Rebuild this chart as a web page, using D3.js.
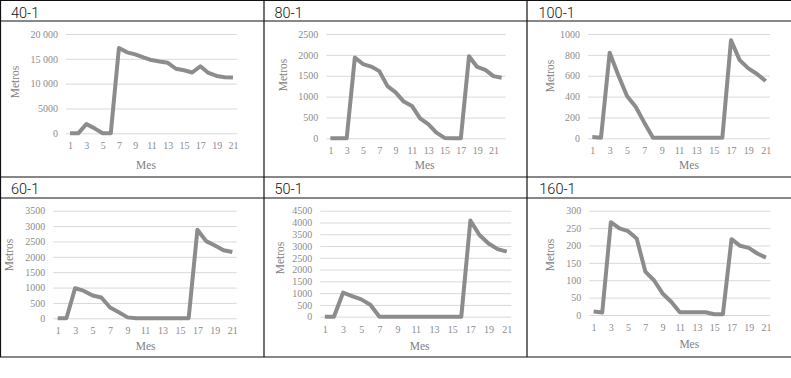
<!DOCTYPE html>
<html>
<head>
<meta charset="utf-8">
<script src="https://cdn.jsdelivr.net/npm/d3@7"></script>
<style>
  body { margin: 0; background: #fff; }
  .tick text { font-family: 'Liberation Serif', serif; font-size: 10px; fill: #8c8c8c; }
  .grid line { stroke: #d9d9d9; stroke-width: 1; }
  .ttl { font-family: Roboto, sans-serif; font-size: 14.5px; font-weight: 300; fill: #111; }
  .axt { font-family: 'Liberation Serif', serif; font-size: 11.5px; fill: #808080; }
</style>
</head>
<body>
<script>
let w = 791;
let h = 378;

// meses
let months21 = d3.range(1, 22);
let months22 = d3.range(1, 23);
let monthTicks = [1, 3, 5, 7, 9, 11, 13, 15, 17, 19, 21];

// metros por mes, cada rollo
let values40 = [0, 0, 1850, 1000, 0, 0, 17200, 16300, 15900, 15300, 14750, 14450, 14200, 13000, 12700, 12250, 13500, 12150, 11550, 11300, 11250];
let values80 = [0, 0, 0, 1935, 1780, 1720, 1610, 1250, 1100, 880, 775, 480, 340, 135, 10, 0, 0, 1965, 1710, 1640, 1490, 1450];
let values100 = [12, 5, 820, 605, 405, 303, 150, 5, 5, 5, 5, 5, 5, 5, 5, 5, 940, 750, 670, 617, 550];
let values60 = [0, 0, 980, 890, 740, 675, 350, 195, 30, 5, 5, 5, 5, 5, 5, 5, 2880, 2510, 2370, 2215, 2155];
let values50 = [0, 0, 1020, 875, 735, 510, 0, 0, 0, 0, 0, 0, 0, 0, 0, 0, 4080, 3470, 3110, 2870, 2760];
let values160 = [10, 7, 267, 249, 241, 220, 125, 100, 62, 38, 8, 8, 8, 8, 2, 2, 218, 199, 193, 177, 165];

// ejes y
let yTicks40 = [0, 5000, 10000, 15000, 20000];
let yLabels40 = ['0', '5000', '10 000', '15 000', '20 000'];
let yTicks80 = [0, 500, 1000, 1500, 2000, 2500];
let yTicks100 = [0, 200, 400, 600, 800, 1000];
let yTicks60 = [0, 500, 1000, 1500, 2000, 2500, 3000, 3500];
let yTicks50 = [0, 500, 1000, 1500, 2000, 2500, 3000, 3500, 4000, 4500];
let yTicks160 = [0, 50, 100, 150, 200, 250, 300];

let titles = ['40-1', '80-1', '100-1', '60-1', '50-1', '160-1'];

let svg = d3.select('body')
  .append('svg')
  .attr('width', w)
  .attr('height', h);

// layout of each cell (plot box, titles)
let panels = [
  { title: titles[0], months: months21, values: values40, ticks: yTicks40, labels: yLabels40,
    gx0: 66, gx1: 237, y0: 133.3, y1: 34, tx: 11, ty: 17.5, mx: 146, my: 168.5, ax: 15, ay: 82 },
  { title: titles[1], months: months22, values: values80, ticks: yTicks80, labels: null,
    gx0: 326.3, gx1: 505.7, y0: 138.3, y1: 34, tx: 274.5, ty: 17.5, mx: 424.7, my: 169, ax: 283, ay: 75 },
  { title: titles[2], months: months21, values: values100, ticks: yTicks100, labels: null,
    gx0: 588, gx1: 770, y0: 138.3, y1: 34, tx: 538.5, ty: 17.5, mx: 689, my: 168.5, ax: 549.7, ay: 76 },
  { title: titles[3], months: months21, values: values60, ticks: yTicks60, labels: null,
    gx0: 53.3, gx1: 236.7, y0: 318.3, y1: 210.7, tx: 11, ty: 193.5, mx: 145.7, my: 350, ax: 8.5, ay: 255 },
  { title: titles[4], months: months21, values: values50, ticks: yTicks50, labels: null,
    gx0: 320.3, gx1: 511.3, y0: 316.7, y1: 210.7, tx: 274.5, ty: 193.5, mx: 419.7, my: 350, ax: 280.3, ay: 258 },
  { title: titles[5], months: months21, values: values160, ticks: yTicks160, labels: null,
    gx0: 589.3, gx1: 770.3, y0: 315, y1: 210.7, tx: 539.3, ty: 193.5, mx: 689.3, my: 347.5, ax: 550.3, ay: 255 }
];

panels.forEach((p) => {
  let xScale = d3.scalePoint()
    .domain(p.months)
    .range([p.gx0, p.gx1])
    .padding(0.5);

  let yScale = d3.scaleLinear()
    .domain([0, d3.max(p.ticks)])
    .range([p.y0, p.y1]);

  let yAxis = d3.axisLeft()
    .scale(yScale)
    .tickValues(p.ticks)
    .tickSize(-(p.gx1 - p.gx0))
    .tickPadding(8)
    .tickFormat((d, i) => { return p.labels ? p.labels[i] : d; });

  let xAxis = d3.axisBottom()
    .scale(xScale)
    .tickValues(p.months.filter((m) => { return monthTicks.indexOf(m) >= 0; }))
    .tickSize(0)
    .tickPadding(9);

  svg.append('g')
    .attr('class', 'grid')
    .attr('transform', 'translate(' + p.gx0 + ', 0)')
    .call(yAxis)
    .call((g) => { g.select('.domain').remove(); });

  svg.append('g')
    .attr('class', 'xaxis')
    .attr('transform', 'translate(0, ' + p.y0 + ')')
    .call(xAxis)
    .call((g) => { g.select('.domain').remove(); });

  let line = d3.line()
    .x((d, i) => { return xScale(p.months[i]); })
    .y((d) => { return yScale(d); });

  svg.append('path')
    .datum(p.values)
    .attr('d', line)
    .attr('fill', 'none')
    .attr('stroke', '#8c8c8c')
    .attr('stroke-width', 4)
    .attr('stroke-linejoin', 'round');

  svg.append('text')
    .attr('class', 'ttl')
    .attr('x', p.tx)
    .attr('y', p.ty)
    .text(p.title);

  svg.append('text')
    .attr('class', 'axt')
    .attr('x', p.mx)
    .attr('y', p.my)
    .attr('text-anchor', 'middle')
    .text('Mes');

  svg.append('text')
    .attr('class', 'axt')
    .attr('transform', 'translate(' + (p.ax + 4) + ', ' + p.ay + ') rotate(-90)')
    .attr('text-anchor', 'middle')
    .text('Metros');
});

// table borders
let hLines = [0.5, 21, 177, 198, 357];
let vLines = [0.5, 264, 527];

svg.selectAll('line.hb')
  .data(hLines)
  .enter()
  .append('line')
  .attr('class', 'hb')
  .attr('x1', 0)
  .attr('x2', w)
  .attr('y1', (d) => { return d; })
  .attr('y2', (d) => { return d; })
  .attr('stroke', '#111')
  .attr('stroke-width', 1.2);

svg.selectAll('line.vb')
  .data(vLines)
  .enter()
  .append('line')
  .attr('class', 'vb')
  .attr('x1', (d) => { return d; })
  .attr('x2', (d) => { return d; })
  .attr('y1', 0)
  .attr('y2', 357)
  .attr('stroke', '#111')
  .attr('stroke-width', 1.2);
</script>
</body>
</html>
